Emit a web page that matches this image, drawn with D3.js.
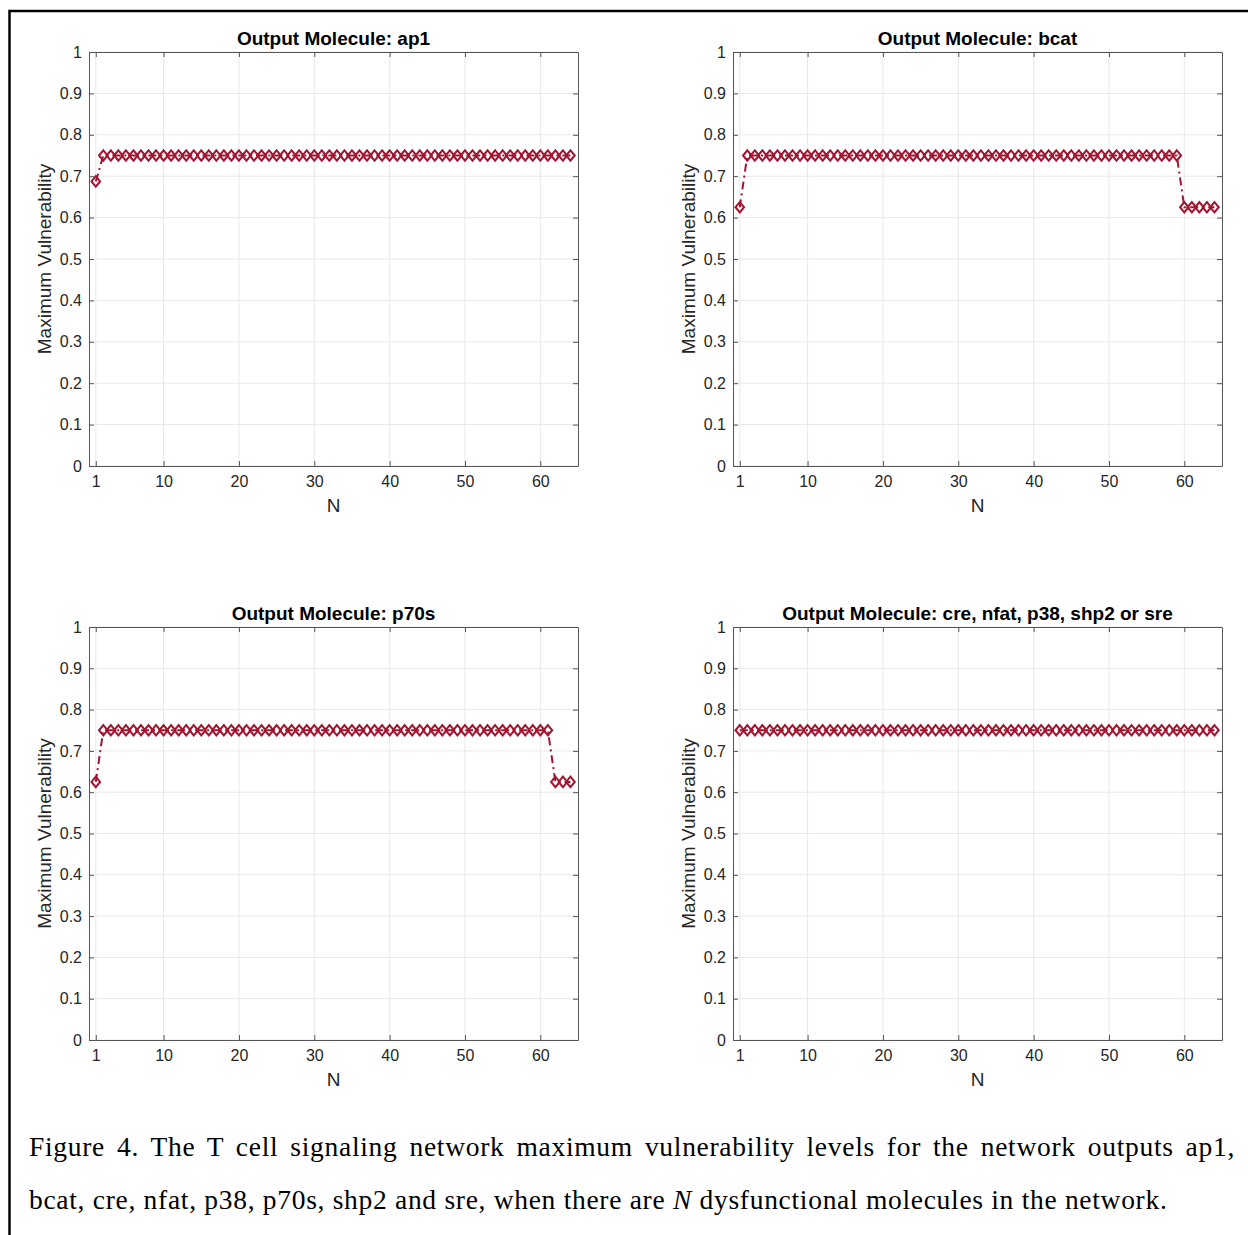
<!DOCTYPE html>
<html>
<head>
<meta charset="utf-8">
<script src="https://cdn.jsdelivr.net/npm/d3@7"></script>
<style>
  body { margin: 0; background: white; }
  #container { position: relative; width: 1248px; height: 1235px; overflow: hidden; }
  #caption {
    position: absolute; left: 29px; top: 1120px; width: 1206px;
    font-family: "Liberation Serif", "Times New Roman", serif;
    font-size: 27.5px; letter-spacing: 0.7px; line-height: 53px; text-align: justify; color: #000;
  }
</style>
</head>
<body>
<div id="container">
  <div id="caption">Figure 4. The T cell signaling network maximum vulnerability levels for the network outputs ap1, bcat, cre, nfat, p38, p70s, shp2 and sre, when there are <i>N</i> dysfunctional molecules in the network.</div>
</div>
<script>
let w = 1248;
let h = 1235;

// panel titles
let titles = ["Output Molecule: ap1", "Output Molecule: bcat",
  "Output Molecule: p70s", "Output Molecule: cre, nfat, p38, shp2 or sre"];

// N = 1..64 dysfunctional molecules
let N = d3.range(1, 65);

let xTicks = [1, 10, 20, 30, 40, 50, 60];
let yTicks = [0, 0.1, 0.2, 0.3, 0.4, 0.5, 0.6, 0.7, 0.8, 0.9, 1];

// maximum vulnerability
let ap1 = [
  0.6875, 0.75, 0.75, 0.75, 0.75, 0.75, 0.75, 0.75, 0.75, 0.75, 0.75, 0.75, 0.75, 0.75, 0.75, 0.75,
  0.75, 0.75, 0.75, 0.75, 0.75, 0.75, 0.75, 0.75, 0.75, 0.75, 0.75, 0.75, 0.75, 0.75, 0.75, 0.75,
  0.75, 0.75, 0.75, 0.75, 0.75, 0.75, 0.75, 0.75, 0.75, 0.75, 0.75, 0.75, 0.75, 0.75, 0.75, 0.75,
  0.75, 0.75, 0.75, 0.75, 0.75, 0.75, 0.75, 0.75, 0.75, 0.75, 0.75, 0.75, 0.75, 0.75, 0.75, 0.75
];
let bcat = [
  0.625, 0.75, 0.75, 0.75, 0.75, 0.75, 0.75, 0.75, 0.75, 0.75, 0.75, 0.75, 0.75, 0.75, 0.75, 0.75,
  0.75, 0.75, 0.75, 0.75, 0.75, 0.75, 0.75, 0.75, 0.75, 0.75, 0.75, 0.75, 0.75, 0.75, 0.75, 0.75,
  0.75, 0.75, 0.75, 0.75, 0.75, 0.75, 0.75, 0.75, 0.75, 0.75, 0.75, 0.75, 0.75, 0.75, 0.75, 0.75,
  0.75, 0.75, 0.75, 0.75, 0.75, 0.75, 0.75, 0.75, 0.75, 0.75, 0.75, 0.625, 0.625, 0.625, 0.625, 0.625
];
let p70s = [
  0.625, 0.75, 0.75, 0.75, 0.75, 0.75, 0.75, 0.75, 0.75, 0.75, 0.75, 0.75, 0.75, 0.75, 0.75, 0.75,
  0.75, 0.75, 0.75, 0.75, 0.75, 0.75, 0.75, 0.75, 0.75, 0.75, 0.75, 0.75, 0.75, 0.75, 0.75, 0.75,
  0.75, 0.75, 0.75, 0.75, 0.75, 0.75, 0.75, 0.75, 0.75, 0.75, 0.75, 0.75, 0.75, 0.75, 0.75, 0.75,
  0.75, 0.75, 0.75, 0.75, 0.75, 0.75, 0.75, 0.75, 0.75, 0.75, 0.75, 0.75, 0.75, 0.625, 0.625, 0.625
];
let cre = [
  0.75, 0.75, 0.75, 0.75, 0.75, 0.75, 0.75, 0.75, 0.75, 0.75, 0.75, 0.75, 0.75, 0.75, 0.75, 0.75,
  0.75, 0.75, 0.75, 0.75, 0.75, 0.75, 0.75, 0.75, 0.75, 0.75, 0.75, 0.75, 0.75, 0.75, 0.75, 0.75,
  0.75, 0.75, 0.75, 0.75, 0.75, 0.75, 0.75, 0.75, 0.75, 0.75, 0.75, 0.75, 0.75, 0.75, 0.75, 0.75,
  0.75, 0.75, 0.75, 0.75, 0.75, 0.75, 0.75, 0.75, 0.75, 0.75, 0.75, 0.75, 0.75, 0.75, 0.75, 0.75
];

let series = [ap1, bcat, p70s, cre];

// panel boxes: [left, right, top, bottom]
let panels = [
  [89, 578, 52, 466],
  [733, 1222, 52, 466],
  [89, 578, 627, 1040],
  [733, 1222, 627, 1040]
];

let red = "#A2142F";
let sans = "'Liberation Sans', Arial, Helvetica, sans-serif";

let viz = d3.select("#container").append("svg")
  .attr("width", w)
  .attr("height", h)
  .style("position", "absolute")
  .style("left", 0)
  .style("top", 0);

// page frame (left and top only, the rest is cut off)
viz.append("path")
  .attr("d", "M9.5," + h + " V11 H" + w)
  .attr("fill", "none")
  .attr("stroke", "black")
  .attr("stroke-width", 2.5);

let yFmt = function(d){
  if (d == 0 || d == 1) return String(d);
  return d.toFixed(1);
};

for (let p = 0; p < 4; p++){
  let [x0, x1, y0, y1] = panels[p];
  let xScale = d3.scaleLinear().domain([0.1, 65]).range([x0, x1]);
  let yScale = d3.scaleLinear().domain([0, 1]).range([y1, y0]);
  let g = viz.append("g");

  // grid
  g.selectAll(".gx").data(xTicks).enter().append("line")
    .attr("x1", d => xScale(d)).attr("x2", d => xScale(d))
    .attr("y1", y0).attr("y2", y1)
    .attr("stroke", "#e8e8e8").attr("stroke-width", 1);
  g.selectAll(".gy").data(yTicks).enter().append("line")
    .attr("x1", x0).attr("x2", x1)
    .attr("y1", d => yScale(d)).attr("y2", d => yScale(d))
    .attr("stroke", "#e8e8e8").attr("stroke-width", 1);

  // axes on all four sides, ticks pointing in
  let tl = 5;
  g.append("g").attr("transform", "translate(0," + y1 + ")")
    .call(d3.axisBottom(xScale).tickValues(xTicks).tickSizeInner(-tl).tickSizeOuter(0).tickPadding(10));
  g.append("g").attr("transform", "translate(0," + y0 + ")")
    .call(d3.axisTop(xScale).tickValues(xTicks).tickSizeInner(-tl).tickSizeOuter(0).tickFormat(""));
  g.append("g").attr("transform", "translate(" + x0 + ",0)")
    .call(d3.axisLeft(yScale).tickValues(yTicks).tickSizeInner(-tl).tickSizeOuter(0).tickFormat(yFmt).tickPadding(7));
  g.append("g").attr("transform", "translate(" + x1 + ",0)")
    .call(d3.axisRight(yScale).tickValues(yTicks).tickSizeInner(-tl).tickSizeOuter(0).tickFormat(""));

  g.selectAll(".domain").attr("stroke", "#555").attr("stroke-width", 1);
  g.selectAll(".tick line").attr("stroke", "#555");
  g.selectAll(".tick text")
    .attr("fill", "#262626")
    .style("font-family", sans)
    .style("font-size", "16px");

  // series line
  let pts = N.map((n, i) => [n, series[p][i]]);
  let lineMaker = d3.line().x(d => xScale(d[0])).y(d => yScale(d[1]));
  g.append("path")
    .datum(pts)
    .attr("d", lineMaker)
    .attr("fill", "none")
    .attr("stroke", red)
    .attr("stroke-width", 2)
    .attr("stroke-dasharray", "8,4,2,4");

  // diamond markers
  g.selectAll(".mk").data(pts).enter().append("path")
    .attr("class", "mk")
    .attr("transform", d => "translate(" + xScale(d[0]) + "," + yScale(d[1]) + ")")
    .attr("d", "M0,-5.2 L4.3,0 L0,5.2 L-4.3,0 Z")
    .attr("fill", "none")
    .attr("stroke", red)
    .attr("stroke-width", 2);

  // title and labels
  g.append("text")
    .attr("x", (x0 + x1) / 2).attr("y", y0 - 7)
    .attr("text-anchor", "middle")
    .style("font-family", sans).style("font-size", "19px").style("font-weight", "bold")
    .attr("fill", "black")
    .text(titles[p]);
  g.append("text")
    .attr("x", (x0 + x1) / 2).attr("y", y1 + 46)
    .attr("text-anchor", "middle")
    .style("font-family", sans).style("font-size", "19px")
    .attr("fill", "#262626")
    .text("N");
  g.append("text")
    .attr("transform", "translate(" + (x0 - 38) + "," + ((y0 + y1) / 2) + ") rotate(-90)")
    .attr("text-anchor", "middle")
    .style("font-family", sans).style("font-size", "19px")
    .attr("fill", "#262626")
    .text("Maximum Vulnerability");
}
</script>
</body>
</html>
